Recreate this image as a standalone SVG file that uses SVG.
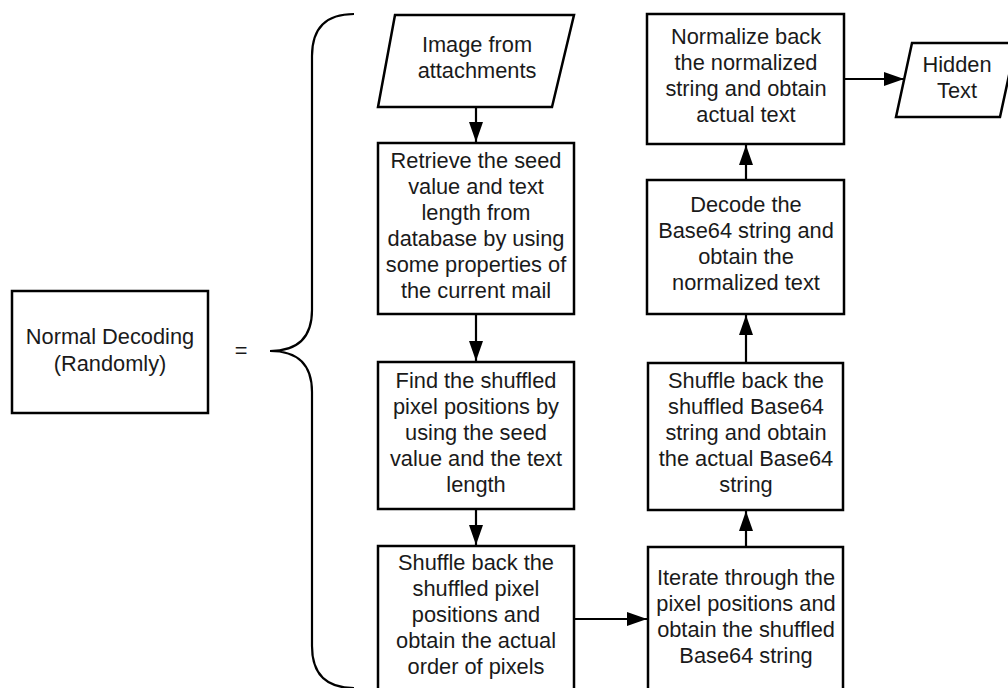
<svg xmlns="http://www.w3.org/2000/svg" width="1008" height="688" viewBox="0 0 1008 688">
<style>
.box{fill:#fff;stroke:#000;stroke-width:2.5}
.t{font-family:"Liberation Sans",Arial,sans-serif;font-size:21.8px;fill:#1a1a1a;text-anchor:middle}
.c{fill:none;stroke:#000;stroke-width:2.2}
.brace{fill:none;stroke:#000;stroke-width:2.2}
</style>
<defs>
<marker id="ah" markerUnits="userSpaceOnUse" markerWidth="20" markerHeight="14" refX="20" refY="7" orient="auto">
<path d="M0,0 L20,7 L0,14 z" fill="#000"/>
</marker>
</defs>
<rect width="1008" height="688" fill="#fff"/>
<g id="normal-decoding">
<rect class="box" x="12" y="291" width="196" height="122"/>
<text class="t" x="110" y="343.5">Normal Decoding</text>
<text class="t" x="110" y="370.5">(Randomly)</text>
</g>
<g id="equals">
<text class="t" x="241" y="358">=</text>
</g>
<g id="brace">
<path class="brace" d="M354,14 Q312,14 312,56 L312,310 Q312,351 270,351 Q312,351 312,392 L312,646 Q312,688 354,688"/>
</g>
<g id="connectors">
<line class="c" x1="476" y1="107" x2="476" y2="142" marker-end="url(#ah)"/>
<line class="c" x1="476" y1="314" x2="476" y2="361" marker-end="url(#ah)"/>
<line class="c" x1="476" y1="509" x2="476" y2="545" marker-end="url(#ah)"/>
<line class="c" x1="574" y1="619" x2="647" y2="619" marker-end="url(#ah)"/>
<line class="c" x1="746" y1="546" x2="746" y2="511" marker-end="url(#ah)"/>
<line class="c" x1="746" y1="362" x2="746" y2="315" marker-end="url(#ah)"/>
<line class="c" x1="746" y1="180" x2="746" y2="145" marker-end="url(#ah)"/>
<line class="c" x1="844" y1="79" x2="904" y2="79" marker-end="url(#ah)"/>
</g>
<g id="image-from-attachments">
<polygon class="box" points="395,15 574,15 552,107 378,107"/>
<text class="t" x="477" y="52">Image from</text>
<text class="t" x="477" y="78">attachments</text>
</g>
<g id="retrieve">
<rect class="box" x="378" y="143" width="196" height="171"/>
<text class="t" x="476" y="168">Retrieve the seed</text>
<text class="t" x="476" y="194">value and text</text>
<text class="t" x="476" y="220">length from</text>
<text class="t" x="476" y="246">database by using</text>
<text class="t" x="476" y="272">some properties of</text>
<text class="t" x="476" y="298">the current mail</text>
</g>
<g id="find-shuffled">
<rect class="box" x="378" y="362" width="196" height="147"/>
<text class="t" x="476" y="388">Find the shuffled</text>
<text class="t" x="476" y="414">pixel positions by</text>
<text class="t" x="476" y="440">using the seed</text>
<text class="t" x="476" y="466">value and the text</text>
<text class="t" x="476" y="492">length</text>
</g>
<g id="shuffle-back-pixels">
<rect class="box" x="378" y="546" width="196" height="160"/>
<text class="t" x="476" y="570">Shuffle back the</text>
<text class="t" x="476" y="596">shuffled pixel</text>
<text class="t" x="476" y="622">positions and</text>
<text class="t" x="476" y="648">obtain the actual</text>
<text class="t" x="476" y="674">order of pixels</text>
</g>
<g id="iterate">
<rect class="box" x="648" y="547" width="195" height="160"/>
<text class="t" x="746" y="585">Iterate through the</text>
<text class="t" x="746" y="611">pixel positions and</text>
<text class="t" x="746" y="637">obtain the shuffled</text>
<text class="t" x="746" y="663">Base64 string</text>
</g>
<g id="shuffle-back-base64">
<rect class="box" x="648" y="363" width="195" height="147"/>
<text class="t" x="746" y="388">Shuffle back the</text>
<text class="t" x="746" y="414">shuffled Base64</text>
<text class="t" x="746" y="440">string and obtain</text>
<text class="t" x="746" y="466">the actual Base64</text>
<text class="t" x="746" y="492">string</text>
</g>
<g id="decode">
<rect class="box" x="647" y="180" width="197" height="134"/>
<text class="t" x="746" y="211.5">Decode the</text>
<text class="t" x="746" y="237.5">Base64 string and</text>
<text class="t" x="746" y="263.5">obtain the</text>
<text class="t" x="746" y="289.5">normalized text</text>
</g>
<g id="normalize-back">
<rect class="box" x="647" y="14" width="197" height="130"/>
<text class="t" x="746" y="44.3">Normalize back</text>
<text class="t" x="746" y="70.3">the normalized</text>
<text class="t" x="746" y="96.3">string and obtain</text>
<text class="t" x="746" y="122.3">actual text</text>
</g>
<g id="hidden-text">
<polygon class="box" points="912,43 1016,43 1000,117 896,117"/>
<text class="t" x="957" y="71.7">Hidden</text>
<text class="t" x="957" y="97.5">Text</text>
</g>
</svg>
